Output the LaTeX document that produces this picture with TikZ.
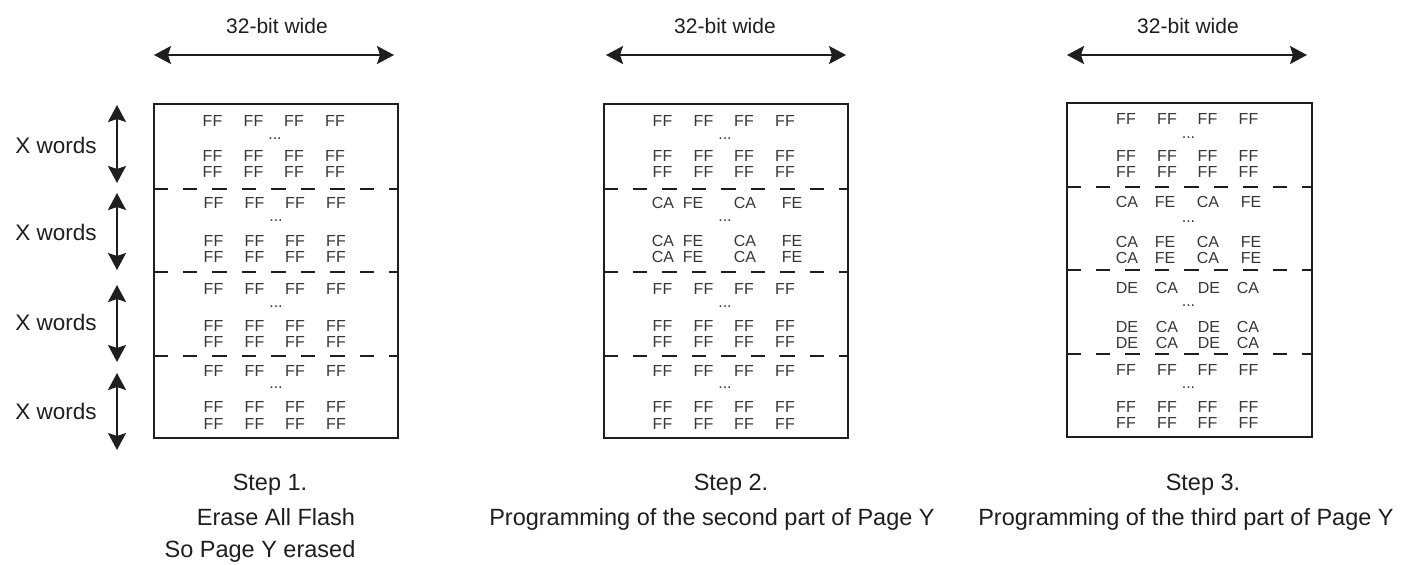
\documentclass[tikz,border=0pt]{standalone}
\usepackage{fontspec}
\setmainfont{Liberation Sans}
\usetikzlibrary{arrows.meta}
\definecolor{ink}{RGB}{30,30,30}
\definecolor{txt}{RGB}{55,55,55}
\tikzset{
  cell/.style={anchor=base, inner sep=0pt, font=\fontsize{16}{16}\selectfont, text=txt},
  lbl/.style={anchor=base, inner sep=0pt, font=\fontsize{23.5}{24}\selectfont, text=ink},
  toplbl/.style={anchor=base, inner sep=0pt, font=\fontsize{21}{21}\selectfont, text=ink},
  xlbl/.style={anchor=base, inner sep=0pt, font=\fontsize{22.5}{22}\selectfont, text=ink},
  mem/.style={draw=ink, line width=2.3pt, inner sep=0pt, anchor=north west},
  sepline/.style={draw=ink, line width=2pt, dash pattern=on 14.5pt off 15pt},
  dimarrow/.style={draw=ink, line width=2pt,
    {Stealth[length=17pt,width=18pt,inset=3pt]}-{Stealth[length=17pt,width=18pt,inset=3pt]}},
}
% row contents: word/offset from box centre
\def\FFrow{FF/-62.5,FF/-21.5,FF/19,FF/60}
\def\CArowB{CA/-62,FE/-32,CA/20,FE/67}
\def\CArowC{CA/-61.5,FE/-23.5,CA/19.5,FE/62.5}
\def\DErowC{DE/-61.5,CA/-21.5,DE/20.5,CA/59.5}
\newcommand\putrow[4]{%
  \foreach \w/\dx [count=\i] in #4 {\node[cell] (#1-\i) at (#2+\dx,#3) {\w};}%
}
% #1 name, #2 centre x, #3 y row1, #4 y dots, #5 y row2, #6 y row3, #7 row list
\newcommand\memsec[7]{%
  \putrow{#1a}{#2}{#3}{#7}%
  \node[cell] (#1d) at (#2,#4) {...};%
  \putrow{#1b}{#2}{#5}{#7}%
  \putrow{#1c}{#2}{#6}{#7}%
}
\begin{document}
\begin{tikzpicture}[x=1pt,y=-1pt]
\useasboundingbox (0,0) rectangle (1414,565);

% ---------- boxes ----------
\node[mem, minimum width=244pt, minimum height=334pt] (box1) at (153,103) {};
\node[mem, minimum width=244pt, minimum height=334pt] (box2) at (603,103) {};
\node[mem, minimum width=245pt, minimum height=334pt] (box3) at (1066,102) {};

% ---------- separators ----------
\foreach \yy in {189,272,356} {
  \draw[sepline] (box1.west |- 0,\yy) -- (box1.east |- 0,\yy);
  \draw[sepline] (box2.west |- 0,\yy) -- (box2.east |- 0,\yy);
}
\foreach \yy in {187,270,354} {
  \draw[sepline] (box3.west |- 0,\yy) -- (box3.east |- 0,\yy);
}

% ---------- top width arrows ----------
\coordinate (w1l) at (154,55); \coordinate (w1r) at (394,55);
\coordinate (w2l) at (606,55); \coordinate (w2r) at (846,55);
\coordinate (w3l) at (1067,55); \coordinate (w3r) at (1307,55);
\draw[dimarrow] (w1l) -- (w1r);
\draw[dimarrow] (w2l) -- (w2r);
\draw[dimarrow] (w3l) -- (w3r);
\node[toplbl] (wl1) at (277,33) {32-bit wide};
\node[toplbl] (wl2) at (725,33) {32-bit wide};
\node[toplbl] (wl3) at (1188,33) {32-bit wide};

% ---------- X words arrows ----------
\coordinate (x1t) at (117,105); \coordinate (x1b) at (117,183);
\coordinate (x2t) at (117,193); \coordinate (x2b) at (117,270);
\coordinate (x3t) at (117,285); \coordinate (x3b) at (117,362);
\coordinate (x4t) at (117,373); \coordinate (x4b) at (117,450);
\draw[dimarrow] (x1t) -- (x1b);
\draw[dimarrow] (x2t) -- (x2b);
\draw[dimarrow] (x3t) -- (x3b);
\draw[dimarrow] (x4t) -- (x4b);
\node[xlbl] (xl1) at (56,153) {X words};
\node[xlbl] (xl2) at (56,240) {X words};
\node[xlbl] (xl3) at (56,330) {X words};
\node[xlbl] (xl4) at (56,419) {X words};

% ---------- contents box 1 ----------
\memsec{bAs1}{275}{126}{139}{161}{177}{\FFrow}
\memsec{bAs2}{276}{208}{221}{246}{262}{\FFrow}
\memsec{bAs3}{276}{294}{307}{331}{347}{\FFrow}
\memsec{bAs4}{276}{376}{388}{412}{429}{\FFrow}

% ---------- contents box 2 ----------
\memsec{bBs1}{725}{126}{139}{161}{177}{\FFrow}
\memsec{bBs2}{725}{208}{221}{246}{262}{\CArowB}
\memsec{bBs3}{725}{294}{307}{331}{347}{\FFrow}
\memsec{bBs4}{725}{376}{388}{412}{429}{\FFrow}

% ---------- contents box 3 ----------
\memsec{bCs1}{1188.5}{124}{138}{161}{177}{\FFrow}
\memsec{bCs2}{1188.5}{207}{222}{247}{263}{\CArowC}
\memsec{bCs3}{1188.5}{293}{306}{332}{348}{\DErowC}
\memsec{bCs4}{1188.5}{375}{388}{412}{428}{\FFrow}

% ---------- captions ----------
\node[lbl] (c1a) at (270,490) {Step 1.};
\node[lbl] (c1b) at (276,525) {Erase All Flash};
\node[lbl] (c1c) at (260,557) {So Page Y erased};
\node[lbl] (c2a) at (731,490) {Step 2.};
\node[lbl] (c2b) at (712,525) {Programming of the second part of Page Y};
\node[lbl] (c3a) at (1203,490) {Step 3.};
\node[lbl] (c3b) at (1186,525) {Programming of the third part of Page Y};
\end{tikzpicture}
\end{document}
